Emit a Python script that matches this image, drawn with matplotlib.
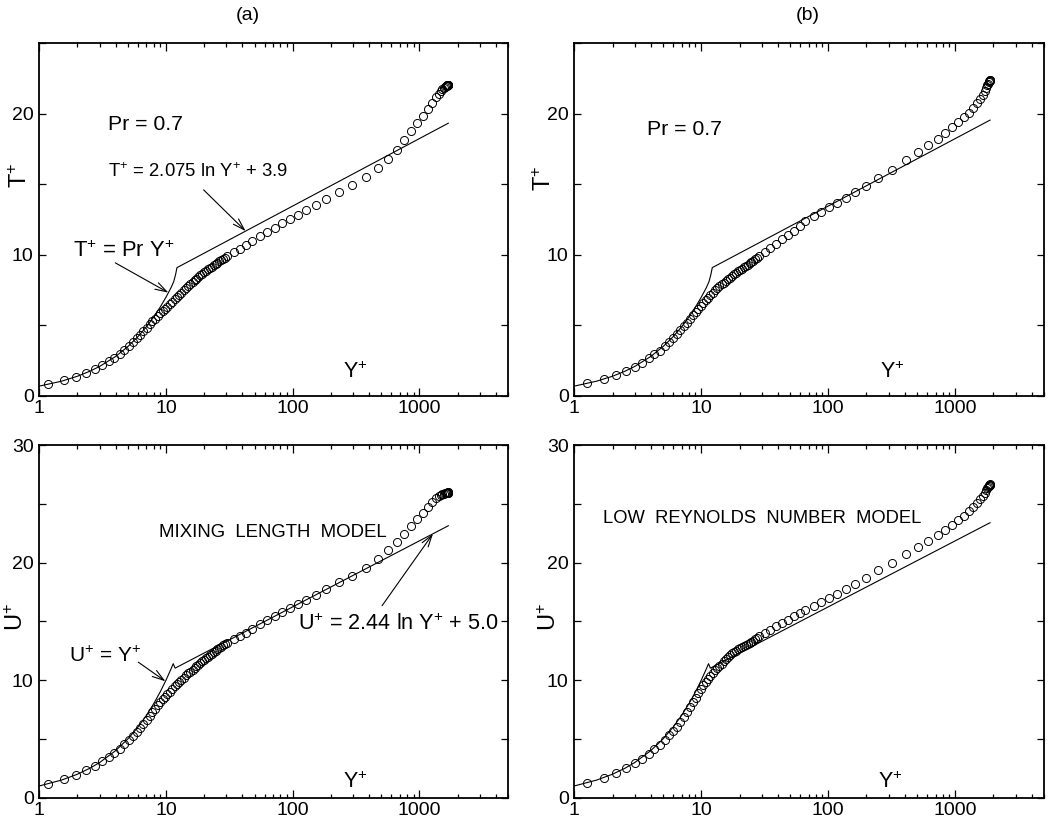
import matplotlib
matplotlib.use('Agg')
import matplotlib.pyplot as plt
from matplotlib.ticker import LogLocator, MultipleLocator, NullFormatter, FuncFormatter

plt.rcParams['font.family'] = ['Liberation Sans', 'DejaVu Sans']
plt.rcParams['mathtext.fontset'] = 'custom'
plt.rcParams['mathtext.rm'] = 'Liberation Sans'
plt.rcParams['mathtext.it'] = 'Liberation Sans:italic'
plt.rcParams['mathtext.bf'] = 'Liberation Sans:bold'

# ---------------- data: panel (a) mixing length model ----------------
yplus_a = [1.18, 1.57, 1.96, 2.35, 2.74, 3.13, 3.52, 3.91, 4.30, 4.69,
           5.08, 5.47, 5.86, 6.25, 6.64, 7.03, 7.42, 7.81, 8.2, 8.6,
           9.0, 9.4, 9.8, 10.2, 10.7, 11.2, 11.7, 12.2, 12.7, 13.2,
           13.8, 14.4, 15.0, 15.6, 16.2, 16.8, 17.4, 18.0, 18.7, 19.4,
           20.1, 20.8, 21.5, 22.2, 23.0, 23.8, 24.6, 25.4, 26.2, 27.1,
           28.0, 29.0,
           30.4, 34.3, 38.3, 42.5, 48, 55, 63, 72, 83, 95,
           110, 128, 152, 182, 230, 293, 378, 474, 569, 662,
           761, 860, 960, 1063, 1164, 1260, 1350,
           1420, 1475, 1520, 1558, 1590, 1615, 1636, 1652, 1665, 1675,
           1682, 1687, 1690]
tplus_a = [0.83, 1.1, 1.37, 1.64, 1.91, 2.18, 2.45, 2.72, 2.98, 3.25,
           3.52, 3.8, 4.08, 4.35, 4.6, 4.85, 5.07, 5.28, 5.48, 5.67,
           5.85, 6.02, 6.17, 6.32, 6.5, 6.68, 6.85, 7.01, 7.17, 7.32,
           7.48, 7.63, 7.78, 7.92, 8.06, 8.19, 8.31, 8.43, 8.55, 8.66,
           8.77, 8.87, 8.97, 9.07, 9.17, 9.27, 9.36, 9.45, 9.53, 9.62,
           9.71, 9.8,
           9.95, 10.2, 10.43, 10.68, 11.0, 11.3, 11.6, 11.9, 12.22, 12.54,
           12.84, 13.16, 13.52, 13.96, 14.42, 14.92, 15.54, 16.15, 16.82, 17.45,
           18.1, 18.77, 19.34, 19.86, 20.34, 20.78, 21.16,
           21.42, 21.6, 21.73, 21.83, 21.9, 21.95, 21.98, 22.0, 22.02, 22.03,
           22.04, 22.05, 22.05]
uplus_a = [1.17, 1.55, 1.94, 2.32, 2.7, 3.08, 3.45, 3.82, 4.18, 4.53,
           4.88, 5.24, 5.6, 5.95, 6.3, 6.64, 6.96, 7.27, 7.57, 7.85,
           8.11, 8.36, 8.58, 8.78, 9.02, 9.25, 9.46, 9.66, 9.85, 10.03,
           10.22, 10.4, 10.57, 10.73, 10.88, 11.03, 11.17, 11.31, 11.46, 11.6,
           11.74, 11.87, 12.0, 12.12, 12.25, 12.38, 12.5, 12.62, 12.73, 12.85,
           12.96, 13.07,
           13.2, 13.48, 13.76, 14.0, 14.33, 14.76, 15.13, 15.47, 15.81, 16.13,
           16.47, 16.84, 17.27, 17.75, 18.32, 18.85, 19.52, 20.31, 21.03, 21.74,
           22.39, 23.1, 23.73, 24.25, 24.73, 25.16, 25.45,
           25.62, 25.73, 25.8, 25.85, 25.88, 25.9, 25.92, 25.93, 25.94, 25.95,
           25.95, 25.96, 25.96]

# ---------------- data: panel (b) low Reynolds number model ----------------
yplus_b = [1.27, 1.70, 2.13, 2.56, 2.99, 3.42, 3.85, 4.28, 4.71, 5.14,
           5.57, 6.0, 6.43, 6.86, 7.29, 7.72, 8.15, 8.58, 9.01, 9.44,
           9.87, 10.3, 10.8, 11.3, 11.8, 12.3, 12.8, 13.3, 13.9, 14.5,
           15.1, 15.7, 16.3, 16.9, 17.5, 18.2, 18.9, 19.6, 20.3, 21.0,
           21.7, 22.4, 23.2, 24.0, 24.8, 25.6, 26.5, 27.4,
           28.5, 31.5, 35, 39, 43.5, 48.5, 54, 60, 66, 77,
           88, 101, 118, 137, 163, 197, 248, 316, 413, 513,
           615, 725, 833, 941, 1055, 1176, 1288, 1385,
           1480, 1565, 1640, 1700, 1750, 1790, 1820, 1843, 1858, 1868,
           1875, 1880]
tplus_b = [0.89, 1.19, 1.49, 1.79, 2.08, 2.37, 2.66, 2.94, 3.22, 3.52,
           3.81, 4.1, 4.38, 4.66, 4.94, 5.2, 5.46, 5.72, 5.94, 6.16,
           6.37, 6.57, 6.78, 6.97, 7.15, 7.32, 7.5, 7.63, 7.77, 7.9,
           8.03, 8.15, 8.27, 8.38, 8.5, 8.61, 8.72, 8.82, 8.92, 9.02,
           9.11, 9.2, 9.3, 9.4, 9.49, 9.58, 9.67, 9.76,
           9.88, 10.18, 10.5, 10.8, 11.1, 11.4, 11.72, 12.04, 12.36, 12.72,
           13.02, 13.36, 13.7, 14.05, 14.45, 14.9, 15.42, 16.0, 16.68, 17.25,
           17.75, 18.22, 18.66, 19.05, 19.4, 19.75, 20.07, 20.4,
           20.72, 21.05, 21.35, 21.6, 21.82, 22.0, 22.12, 22.22, 22.28, 22.32,
           22.35, 22.37]
uplus_b = [1.25, 1.67, 2.09, 2.5, 2.92, 3.33, 3.73, 4.13, 4.52, 4.95,
           5.33, 5.68, 6.05, 6.45, 6.88, 7.3, 7.7, 8.1, 8.5, 8.88,
           9.25, 9.56, 9.85, 10.12, 10.38, 10.6, 10.82, 11.0, 11.2, 11.4,
           11.6, 11.78, 11.95, 12.12, 12.28, 12.4, 12.52, 12.63, 12.73, 12.83,
           12.92, 13.01, 13.1, 13.19, 13.28, 13.37, 13.46, 13.55,
           13.72, 14.0, 14.3, 14.58, 14.86, 15.14, 15.42, 15.68, 15.95, 16.33,
           16.65, 16.97, 17.32, 17.72, 18.19, 18.7, 19.33, 19.98, 20.7, 21.3,
           21.85, 22.35, 22.8, 23.2, 23.58, 23.98, 24.35, 24.7,
           25.05, 25.4, 25.7, 25.95, 26.15, 26.3, 26.42, 26.5, 26.56, 26.6,
           26.63, 26.65]

# ---------------- law-of-the-wall reference lines ----------------
tline_yplus_a = [1, 1.5, 2, 2.5, 3, 4, 5, 6, 7, 8, 9, 10, 11, 11.5, 11.9, 12.2, 1690]
tline_a = [0.7, 1.05, 1.4, 1.75, 2.1, 2.8, 3.5, 4.2, 4.9, 5.6, 6.3, 7.0, 7.7, 8.1, 8.6, 9.09, 19.32]
tline_yplus_b = [1, 1.5, 2, 2.5, 3, 4, 5, 6, 7, 8, 9, 10, 11, 11.5, 11.9, 12.2, 1880]
tline_b = [0.7, 1.05, 1.4, 1.75, 2.1, 2.8, 3.5, 4.2, 4.9, 5.6, 6.3, 7.0, 7.7, 8.1, 8.6, 9.09, 19.54]
uline_yplus_a = [1, 1.5, 2, 2.5, 3, 4, 5, 6, 7, 8, 9, 10, 11, 11.4, 11.8, 1690]
uline_a = [1, 1.5, 2, 2.5, 3, 4, 5, 6, 7, 8, 9, 10, 11, 11.4, 11.02, 23.13]
uline_yplus_b = [1, 1.5, 2, 2.5, 3, 4, 5, 6, 7, 8, 9, 10, 11, 11.4, 11.8, 1880]
uline_b = [1, 1.5, 2, 2.5, 3, 4, 5, 6, 7, 8, 9, 10, 11, 11.4, 11.02, 23.39]

# ---------------- figure ----------------
fig = plt.figure(figsize=(10.54, 8.25), dpi=100)
W, H = 1054.0, 825.0

def make_axes(left, right, top, bottom):
    return fig.add_axes([left / W, 1 - bottom / H, (right - left) / W, (bottom - top) / H])

ax_tl = make_axes(39.3, 508, 43, 396)
ax_tr = make_axes(574.3, 1044, 43, 396)
ax_bl = make_axes(39.3, 508, 445, 797.7)
ax_br = make_axes(574.3, 1044, 445, 797.7)

def style(ax, ymax):
    ax.set_xscale('log')
    ax.set_xlim(1, 5000)
    ax.set_ylim(0, ymax)
    ax.xaxis.set_major_locator(LogLocator(base=10, numticks=10))
    ax.xaxis.set_minor_locator(LogLocator(base=10, subs=range(2, 10), numticks=20))
    ax.xaxis.set_minor_formatter(NullFormatter())
    ax.xaxis.set_major_formatter(FuncFormatter(lambda v, p: '%d' % round(v)))
    ax.yaxis.set_major_locator(MultipleLocator(10))
    ax.yaxis.set_minor_locator(MultipleLocator(5))
    ax.yaxis.set_major_formatter(FuncFormatter(lambda v, p: '%d' % round(v)))
    ax.tick_params(axis='both', which='both', direction='in', top=True, right=True,
                   width=0.9, colors='black')
    ax.tick_params(axis='x', which='major', length=6, pad=3, labelsize=14)
    ax.tick_params(axis='x', which='minor', length=3)
    ax.tick_params(axis='y', which='major', length=5, pad=4, labelsize=14)
    ax.tick_params(axis='y', which='minor', length=5)
    for s in ax.spines.values():
        s.set_linewidth(1.3)

def draw(ax, xs, ys, lx, ly):
    ax.plot(lx, ly, color='black', lw=0.8, zorder=2)
    ax.plot(xs, ys, linestyle='none', marker='o', mfc='none', mec='black',
            ms=5.8, mew=0.7, zorder=3)

for ax, ymax in [(ax_tl, 25), (ax_tr, 25), (ax_bl, 30), (ax_br, 30)]:
    style(ax, ymax)

draw(ax_tl, yplus_a, tplus_a, tline_yplus_a, tline_a)
draw(ax_tr, yplus_b, tplus_b, tline_yplus_b, tline_b)
draw(ax_bl, yplus_a, uplus_a, uline_yplus_a, uline_a)
draw(ax_br, yplus_b, uplus_b, uline_yplus_b, uline_b)

arrow = dict(arrowstyle='->,head_length=0.7,head_width=0.22', lw=0.8, color='black',
             shrinkA=0, shrinkB=0, mutation_scale=12)

# panel titles
fig.text(248 / W, 1 - 15 / H, '(a)', ha='center', va='center', fontsize=14)
fig.text(807.7 / W, 1 - 15 / H, '(b)', ha='center', va='center', fontsize=14)

# y labels
fig.text(20.7 / W, 1 - 175 / H, r'T$^{+}$', rotation=90, ha='center', va='center', fontsize=17)
fig.text(545 / W, 1 - 178 / H, r'T$^{+}$', rotation=90, ha='center', va='center', fontsize=17)
fig.text(16.7 / W, 1 - 617 / H, r'U$^{+}$', rotation=90, ha='center', va='center', fontsize=17)
fig.text(550 / W, 1 - 617 / H, r'U$^{+}$', rotation=90, ha='center', va='center', fontsize=17)

# in-axes Y+ labels
for ax, xf, yf in [(ax_tl, 0.674, 0.05), (ax_tr, 0.676, 0.05), (ax_bl, 0.674, 0.027), (ax_br, 0.672, 0.027)]:
    ax.text(xf, yf, r'Y$^{+}$', transform=ax.transAxes, ha='center', va='baseline', fontsize=15.5)

# top-left annotations
ax_tl.text(0.1466, 0.7535, 'Pr = 0.7', transform=ax_tl.transAxes, ha='left', va='baseline', fontsize=15.3)
ax_tl.text(0.1466, 0.621, r'T$^{+}$ = 2.075 ln Y$^{+}$ + 3.9', transform=ax_tl.transAxes,
           ha='left', va='baseline', fontsize=13.3)
ax_tl.annotate('', xy=(42.5, 11.68), xytext=(19.8, 14.6), arrowprops=arrow)
ax_tl.text(0.0719, 0.395, r'T$^{+}$ = Pr Y$^{+}$', transform=ax_tl.transAxes,
           ha='left', va='baseline', fontsize=15.8)
ax_tl.annotate('', xy=(10.45, 7.32), xytext=(3.98, 9.43), arrowprops=arrow)

# top-right annotations
ax_tr.text(0.154, 0.739, 'Pr = 0.7', transform=ax_tr.transAxes, ha='left', va='baseline', fontsize=15.3)

# bottom-left annotations
ax_bl.text(0.2554, 0.738, 'MIXING  LENGTH  MODEL', transform=ax_bl.transAxes, ha='left', va='baseline', fontsize=13.4)
ax_bl.text(0.552, 0.4755, r'U$^{+}$ = 2.44 ln Y$^{+}$ + 5.0', transform=ax_bl.transAxes,
           ha='left', va='baseline', fontsize=15.6)
ax_bl.annotate('', xy=(1279, 22.45), xytext=(507, 16.33), arrowprops=arrow)
ax_bl.text(0.0634, 0.384, r'U$^{+}$ = Y$^{+}$', transform=ax_bl.transAxes,
           ha='left', va='baseline', fontsize=15)
ax_bl.annotate('', xy=(9.9, 9.9), xytext=(6.04, 11.53), arrowprops=arrow)

# bottom-right annotations
ax_br.text(0.061, 0.778, 'LOW  REYNOLDS  NUMBER  MODEL', transform=ax_br.transAxes, ha='left', va='baseline', fontsize=13.2)

fig.savefig('out.png', dpi=100, facecolor='white')
